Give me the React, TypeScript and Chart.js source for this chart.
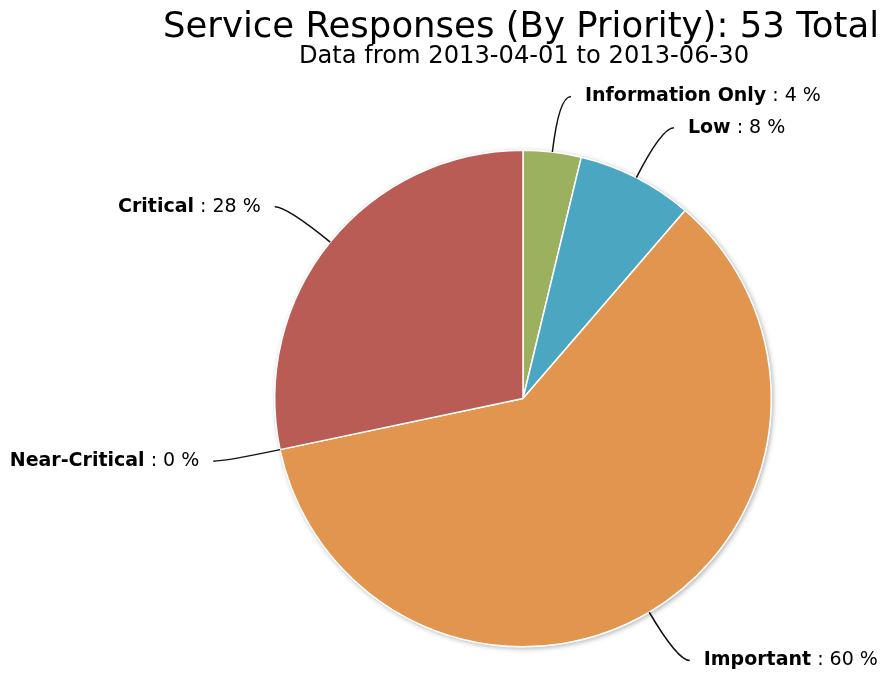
import React, { useEffect, useRef } from 'react';
import { Chart, registerables } from 'chart.js';

Chart.register(...registerables);

const categories = ['Information Only', 'Low', 'Important', 'Near-Critical', 'Critical'];
const counts = [2, 4, 32, 0, 15];
const sliceColors = ['#9CB160', '#4BA7C1', '#E1954E', '#8A70A8', '#B95C55'];
const titleText = 'Service Responses (By Priority): 53 Total';
const subtitleText = 'Data from 2013-04-01 to 2013-06-30';

const FONT = '"DejaVu Sans", Verdana, sans-serif';

const total = counts.reduce((a, b) => a + b, 0);
const percents = counts.map((v) => Math.round((v / total) * 100));

const shadowPlugin = {
  id: 'pieShadow',
  beforeDatasetsDraw(chart: any) {
    const meta = chart.getDatasetMeta(0);
    const arc = meta.data[0];
    if (!arc) return;
    const { x, y, outerRadius } = arc.getProps(['x', 'y', 'outerRadius'], true);
    const ctx = chart.ctx;
    ctx.save();
    ctx.shadowColor = 'rgba(0,0,0,0.3)';
    ctx.shadowBlur = 5;
    ctx.shadowOffsetX = 1.5;
    ctx.shadowOffsetY = 1.5;
    ctx.fillStyle = '#ffffff';
    ctx.beginPath();
    ctx.arc(x, y, outerRadius + 0.5, 0, Math.PI * 2);
    ctx.fill();
    ctx.restore();
  },
};

const labelPlugin = {
  id: 'outsideLabels',
  afterDatasetsDraw(chart: any) {
    const ctx = chart.ctx;
    const meta = chart.getDatasetMeta(0);
    meta.data.forEach((arc: any, i: number) => {
      const { x, y, startAngle, endAngle, outerRadius } = arc.getProps(
        ['x', 'y', 'startAngle', 'endAngle', 'outerRadius'],
        true
      );
      const mid = (startAngle + endAngle) / 2;
      const c = Math.cos(mid);
      const s = Math.sin(mid);
      const ax = x + c * outerRadius;
      const ay = y + s * outerRadius;
      const R = outerRadius + 56;
      const lx = x + c * R;
      const ly = y + s * R;
      const sign = c >= 0 ? 1 : -1;
      const ex = lx + sign * 12;

      ctx.save();
      ctx.strokeStyle = '#111';
      ctx.lineWidth = 1.5;
      ctx.beginPath();
      ctx.moveTo(ax, ay);
      ctx.quadraticCurveTo(lx, ly, ex, ly);
      ctx.stroke();

      const boldPart = categories[i];
      const regPart = ' : ' + percents[i] + ' %';
      const boldFont = 'bold 19px ' + FONT;
      const regFont = '19px ' + FONT;
      ctx.font = boldFont;
      const bw = ctx.measureText(boldPart).width;
      ctx.font = regFont;
      const rw = ctx.measureText(regPart).width;
      const gap = 14;
      const startX = sign > 0 ? ex + gap : ex - gap - (bw + rw);
      ctx.fillStyle = '#000';
      ctx.textBaseline = 'middle';
      ctx.textAlign = 'left';
      ctx.font = boldFont;
      ctx.fillText(boldPart, startX, ly);
      ctx.font = regFont;
      ctx.fillText(regPart, startX + bw, ly);
      ctx.restore();
    });
  },
};

const titlePlugin = {
  id: 'titles',
  afterDraw(chart: any) {
    const ctx = chart.ctx;
    ctx.save();
    ctx.fillStyle = '#000';
    ctx.textAlign = 'center';
    ctx.textBaseline = 'alphabetic';
    ctx.font = '35.5px ' + FONT;
    ctx.fillText(titleText, 521, 37);
    ctx.font = '24.2px ' + FONT;
    ctx.fillText(subtitleText, 524, 63);
    ctx.restore();
  },
};

export default function App() {
  const ref = useRef<HTMLCanvasElement | null>(null);
  useEffect(() => {
    document.body.style.margin = '0';
    if (!ref.current) return;
    const chart = new Chart(ref.current, {
      type: 'pie',
      data: {
        labels: categories,
        datasets: [
          {
            data: counts,
            backgroundColor: sliceColors,
            borderColor: '#ffffff',
            borderWidth: 1.5,
          },
        ],
      },
      options: {
        responsive: false,
        animation: false,
        layout: { padding: { left: 274, top: 149, right: 110, bottom: 27 } },
        plugins: {
          legend: { display: false },
          title: { display: false },
          tooltip: { enabled: false },
        },
      },
      plugins: [shadowPlugin, labelPlugin, titlePlugin],
    });
    return () => chart.destroy();
  }, []);
  return (
    <div style={{ position: 'absolute', left: 0, top: 0, width: 882, height: 675, background: '#fff' }}>
      <canvas ref={ref} width={882} height={675} />
    </div>
  );
}
